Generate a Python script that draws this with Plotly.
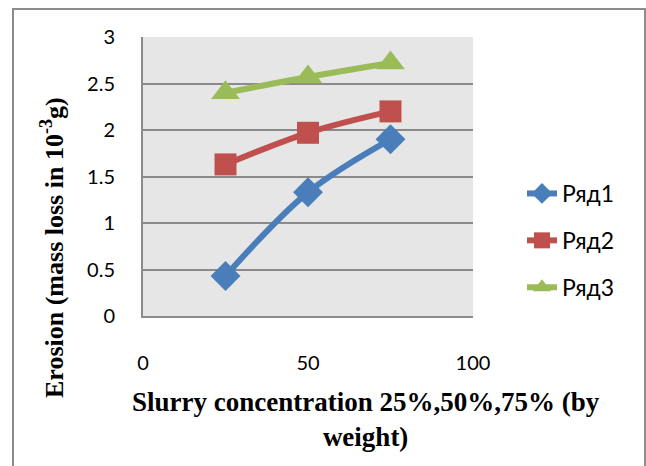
import plotly.graph_objects as go

x_vals = [25, 50, 75]
series_names = ["Ряд1", "Ряд2", "Ряд3"]
ryad1 = [0.43, 1.33, 1.90]
ryad2 = [1.63, 1.97, 2.20]
ryad3 = [2.40, 2.57, 2.72]
x_ticks = [0, 50, 100]
y_ticks = [0, 0.5, 1, 1.5, 2, 2.5, 3]
y_tick_labels = ["0", "0.5", "1", "1.5", "2", "2.5", "3"]

colors = ["#4A7EBB", "#C0504D", "#9BBB59"]
symbols = ["diamond", "square", "triangle-up"]
sizes = [23, 22, 25]

fig = go.Figure()
for i, (name, ys) in enumerate(zip(series_names, [ryad1, ryad2, ryad3])):
    fig.add_trace(go.Scatter(
        x=x_vals, y=ys, name=name, mode="lines+markers",
        line=dict(color=colors[i], width=6, shape="spline"),
        marker=dict(symbol=symbols[i], size=sizes[i], color=colors[i]),
        legendgroup=f"g{i}",
    ))

L, R, T, B = 143, 173, 37, 150
W, H = 646, 466
pw = W - L - R
ph = H - T - B

def px_x(p):
    return (p - L) / pw

def px_y(p):
    return (H - B - p) / ph

fig.update_layout(
    width=W, height=H,
    margin=dict(l=L, r=R, t=T, b=B),
    paper_bgcolor="white",
    plot_bgcolor="#E6E6E6",
    font=dict(family="Lato", size=18, color="black"),
    showlegend=True,
    legend=dict(
        x=px_x(522), y=px_y(172), xanchor="left", yanchor="top",
        font=dict(family="Lato", size=23),
        tracegroupgap=14, bgcolor="rgba(0,0,0,0)",
    ),
    xaxis=dict(
        range=[0, 100], tickvals=x_ticks, showgrid=False, zeroline=False,
        showline=True, linecolor="#8A8A8A", linewidth=2,
        ticks="", ticklabelstandoff=28,
        tickfont=dict(family="Lato", size=20),
    ),
    yaxis=dict(
        range=[0, 3], tickvals=y_ticks, ticktext=y_tick_labels,
        showgrid=True, gridcolor="#8A8A8A", gridwidth=2, zeroline=False,
        showline=True, linecolor="#8A8A8A", linewidth=2,
        ticks="", ticklabelstandoff=22,
        tickfont=dict(family="Lato", size=20),
    ),
)

fig.add_annotation(
    xref="paper", yref="paper", x=px_x(52), y=px_y(248),
    text="<b>Erosion (mass loss in 10<sup>-3</sup>g)</b>", textangle=-90,
    showarrow=False, xanchor="center", yanchor="middle",
    font=dict(family="Liberation Serif", size=26, color="black"),
)
fig.add_annotation(
    xref="paper", yref="paper", x=px_x(366), y=px_y(419),
    text="<b>Slurry concentration 25%,50%,75% (by<br>weight)</b>",
    showarrow=False, xanchor="center", yanchor="middle", align="center",
    font=dict(family="Liberation Serif", size=27, color="black"),
)

fig.add_shape(
    type="rect", xref="paper", yref="paper",
    x0=px_x(13), x1=px_x(645), y0=px_y(480), y1=px_y(9),
    line=dict(color="#8C8C8C", width=2), fillcolor="rgba(0,0,0,0)", layer="below",
)

fig.write_html("out.html")
